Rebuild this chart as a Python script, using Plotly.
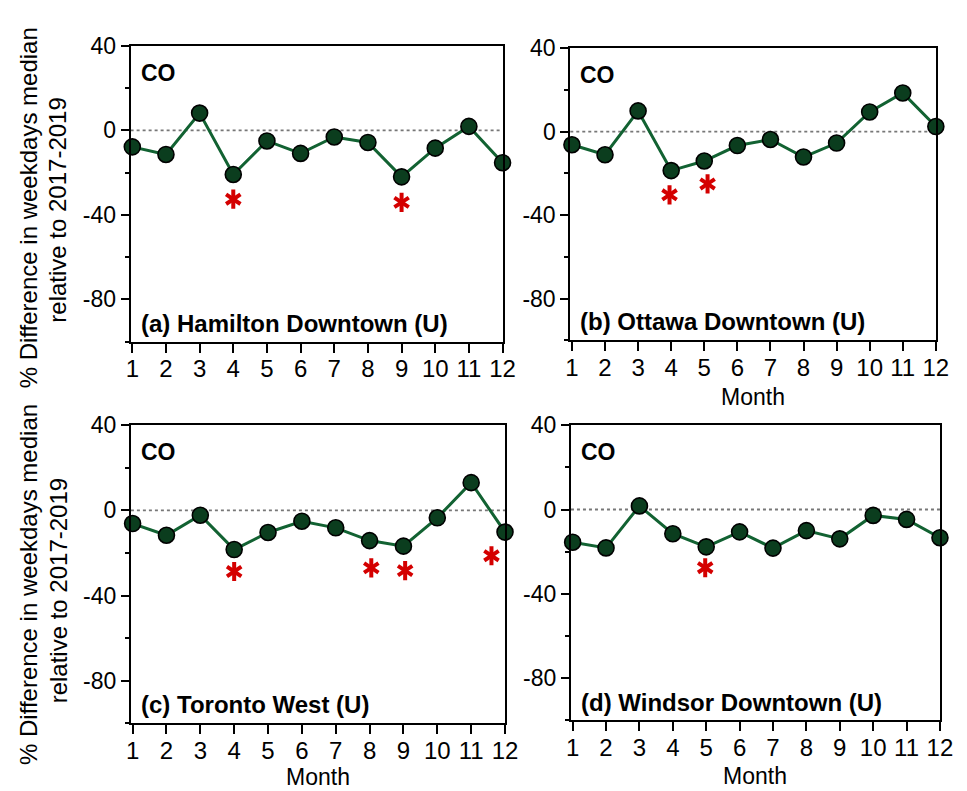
import plotly.graph_objects as go

W, H = 967, 791

months = list(range(1, 13))
month_labels = [str(m) for m in months]

hamilton = [-7.8, -11.4, 8.2, -20.9, -5.0, -10.9, -3.1, -5.7, -22.0, -8.4, 1.9, -15.3]
ottawa = [-6.3, -11.1, 9.9, -18.7, -14.1, -6.7, -3.8, -12.2, -5.5, 9.4, 18.5, 2.4]
toronto = [-6.2, -11.7, -2.3, -18.4, -10.4, -5.1, -8.2, -14.2, -16.8, -3.5, 13.0, -10.2]
windsor = [-15.5, -18.2, 1.7, -11.5, -17.7, -10.6, -18.3, -10.0, -13.9, -2.8, -4.7, -13.4]

# significance asterisks (x, y)
star_a_x = [4.0, 9.0]
star_a_y = [-32.6, -34.1]
star_b_x = [3.95, 5.1]
star_b_y = [-30.3, -25.1]
star_c_x = [4.0, 8.05, 9.05, 11.6]
star_c_y = [-28.7, -27.0, -28.3, -21.3]
star_d_x = [4.97]
star_d_y = [-27.6]

y_ticks = [-80, -40, 0, 40]
y_tick_labels = ["-80", "-40", "0", "40"]

panel_titles = ["(a) Hamilton Downtown (U)", "(b) Ottawa Downtown (U)",
                "(c) Toronto West (U)", "(d) Windsor Downtown (U)"]
species = "CO"
y_title_1 = "% Difference in weekdays median"
y_title_2 = "relative to 2017-2019"
x_title = "Month"

series = [hamilton, ottawa, toronto, windsor]
stars = [(star_a_x, star_a_y), (star_b_x, star_b_y), (star_c_x, star_c_y), (star_d_x, star_d_y)]

# panel pixel boxes: (x0, x1, y0_top, y1_bottom)
boxes = [(128, 507, 33.5, 334), (576, 948.5, 35.7, 332.7),
         (128.3, 509.5, 419, 722.3), (576.7, 952.7, 419, 719.3)]
# "Month" title positions (pixel centre y) for panels b, c, d; None for a
month_title_y = [None, 390, 777, 776]

FONT = "Liberation Sans, Arial, Helvetica, sans-serif"
LINE_GREEN = "#126232"
MARK_GREEN = "#0b3d1e"
RED = "#d40000"

fig = go.Figure()
layout = dict(
    width=W, height=H,
    margin=dict(l=0, r=0, t=0, b=0),
    paper_bgcolor="white", plot_bgcolor="white",
    showlegend=False,
    font=dict(family=FONT, color="black"),
)
annotations = []
shapes = []

for i, (vals, (sx, sy), box) in enumerate(zip(series, stars, boxes)):
    n = "" if i == 0 else str(i + 1)
    xa, ya = "x" + n, "y" + n
    x0, x1, yt, yb = box
    fig.add_trace(go.Scatter(
        x=months, y=vals, xaxis=xa, yaxis=ya, mode="lines+markers",
        line=dict(color=LINE_GREEN, width=3),
        marker=dict(size=16, color=MARK_GREEN, line=dict(color="black", width=1.6)),
        cliponaxis=False,
    ))
    for sym in ["y-up-open", "y-down-open"]:
        fig.add_trace(go.Scatter(
            x=sx, y=sy, xaxis=xa, yaxis=ya, mode="markers",
            marker=dict(symbol=sym, size=12, color=RED, line=dict(color=RED, width=4)),
            cliponaxis=False,
        ))
    layout["xaxis" + n] = dict(
        domain=[x0 / W, x1 / W], anchor=ya, range=[0.95, 12.0],
        tickvals=months, ticktext=month_labels,
        ticks="outside", ticklen=9, tickwidth=2, tickcolor="black",
        ticklabelstandoff=-4,
        showline=True, linewidth=2, linecolor="black", mirror=True,
        showgrid=False, zeroline=False, fixedrange=True,
        tickfont=dict(size=24, family=FONT, color="black"),
    )
    layout["yaxis" + n] = dict(
        domain=[1 - yb / H, 1 - yt / H], anchor=xa, range=[-100, 40],
        tickvals=y_ticks, ticktext=y_tick_labels,
        ticks="outside", ticklen=8, tickwidth=2, tickcolor="black",
        minor=dict(tickvals=[-100, -60, -20, 20], ticks="outside", ticklen=4, tickwidth=2, tickcolor="black"),
        showline=True, linewidth=2, linecolor="black", mirror=True,
        showgrid=False, zeroline=False, fixedrange=True,
        tickfont=dict(size=23, family=FONT, color="black"),
    )
    shapes.append(dict(type="line", xref=xa + " domain", yref=ya, x0=0, x1=1, y0=0, y1=0,
                       line=dict(color="#777777", width=1.8, dash="dot"), layer="below"))
    annotations.append(dict(xref=xa + " domain", yref=ya + " domain", x=0.022, y=0.96,
                            xanchor="left", yanchor="top", showarrow=False,
                            text="<b>" + species + "</b>", font=dict(size=23, family=FONT)))
    annotations.append(dict(xref=xa + " domain", yref=ya + " domain", x=0.022, y=0.01,
                            xanchor="left", yanchor="bottom", showarrow=False,
                            text="<b>" + panel_titles[i] + "</b>", font=dict(size=24, family=FONT)))
    if month_title_y[i] is not None:
        annotations.append(dict(xref=xa + " domain", yref="paper", x=0.5, y=1 - month_title_y[i] / H,
                                xanchor="center", yanchor="middle", showarrow=False,
                                text=x_title, font=dict(size=23, family=FONT)))

for yc1, yc2 in [(198, 200), (581, 587)]:
    annotations.append(dict(xref="paper", yref="paper", x=24 / W, y=1 - yc1 / H,
                            xanchor="center", yanchor="middle", showarrow=False, textangle=-90,
                            text=y_title_1, font=dict(size=24, family=FONT)))
    annotations.append(dict(xref="paper", yref="paper", x=54 / W, y=1 - yc2 / H,
                            xanchor="center", yanchor="middle", showarrow=False, textangle=-90,
                            text=y_title_2, font=dict(size=24, family=FONT)))

layout["annotations"] = annotations
layout["shapes"] = shapes
fig.update_layout(**layout)
fig.write_html("out.html")
